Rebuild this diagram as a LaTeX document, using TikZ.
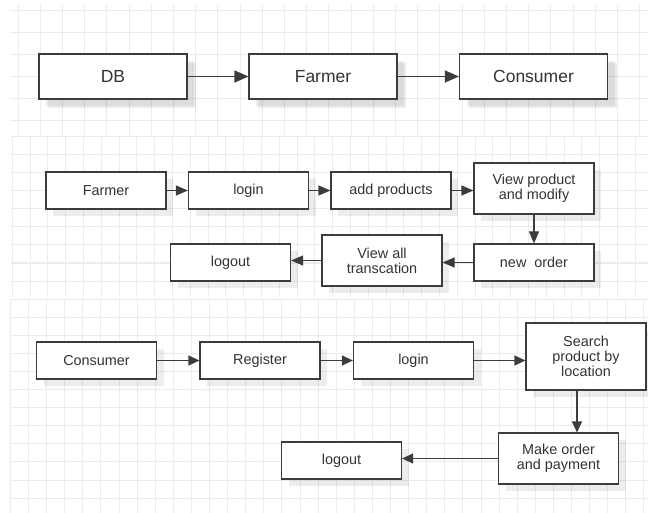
\documentclass[tikz,border=0pt]{standalone}
\usepackage{fontspec}
\setmainfont{Liberation Sans}
\usepackage{tikz}
\usetikzlibrary{arrows.meta}
\usetikzlibrary{shadows}
\tikzset{>={Triangle[width=10pt,length=12pt]}}
\definecolor{gridgray}{HTML}{EBEBEB}
\definecolor{inkgray}{HTML}{333333}
\definecolor{linegray}{HTML}{3C3C3C}
\tikzset{
  flowbox/.style={draw=linegray, line width=1.2pt, fill=white, inner sep=0pt,
    text=inkgray, align=center, minimum width=120pt, minimum height=37pt,
    font=\fontsize{14.4}{15}\selectfont,
    drop shadow={shadow xshift=7pt, shadow yshift=-7pt, fill=black, opacity=.07}},
  bigbox/.style={flowbox, minimum width=148pt, minimum height=45pt,
    font=\fontsize{17.5}{20}\selectfont,
    drop shadow={shadow xshift=9pt, shadow yshift=-9pt, fill=black, opacity=.07}},
  flowline/.style={->, line width=1.2pt, draw=linegray},
  gridline/.style={draw=gridgray, line width=1pt}
}

\begin{document}
\begin{tikzpicture}[x=1pt, y=-1pt]

  \useasboundingbox[fill=white] (0,0) rectangle (648,513);

  %% grid, top panel
  \foreach \gx in {0,...,28}
    \draw[gridline] ({18+22.2*\gx},5) -- ({18+22.2*\gx},135);
  \foreach \gy in {0,...,5}
    \draw[gridline] (10,{11+22*\gy}) -- (648,{11+22*\gy});

  %% grid, farmer panel
  \foreach \gx in {0,...,35}
    \draw[gridline] ({12.2+17.8*\gx},137) -- ({12.2+17.8*\gx},297);
  \foreach \gy in {0,...,8}
    \draw[gridline] (11,{137+18*\gy}) -- (648,{137+18*\gy});

  %% grid, consumer panel
  \foreach \gx in {0,...,35}
    \draw[gridline] ({10.4+18.1*\gx},299) -- ({10.4+18.1*\gx},513);
  \foreach \gy in {0,...,11}
    \draw[gridline] (11,{299+18.1*\gy}) -- (648,{299+18.1*\gy});

  %% top panel
  \node[bigbox] (db) at (113,76.5) {DB};
  \node[bigbox] (farmer) at (323,76.5) {Farmer};
  \node[bigbox] (consumer) at (533.5,76.5) {Consumer};

  \begin{scope}[>={Triangle[width=12pt,length=14pt]}]
    \draw[flowline] (db) -- (farmer);
    \draw[flowline] (farmer) -- (consumer);
  \end{scope}

  %% farmer panel
  \node[flowbox] (fFarmer) at (106,190.5) {Farmer};
  \node[flowbox] (fLogin) at (248.5,190.5) {login};
  \node[flowbox] (fAdd) at (391,190.5) {add products};
  \node[flowbox, minimum height=51pt] (fView) at (534,188.5)
    {View product\\and modify};
  \node[flowbox] (fOrder) at (534,262.5) {new\ \ order};
  \node[flowbox, minimum height=51pt] (fTrans) at (382,260.5)
    {View all\\transcation};
  \node[flowbox] (fLogout) at (230.5,262.5) {logout};

  \draw[flowline] (fFarmer) -- (fLogin);
  \draw[flowline] (fLogin) -- (fAdd);
  \draw[flowline] (fAdd.east) -- (fAdd.east -| fView.west); %% add -> view
  \draw[flowline] (fView) -- (fOrder);
  \draw[flowline] (fOrder.west) -- (fOrder.west -| fTrans.east);
  \draw[flowline] (fTrans.west) -- (fTrans.west -| fLogout.east);

  %% consumer panel
  \node[flowbox] (cConsumer) at (96.5,360.5) {Consumer};
  \node[flowbox] (cRegister) at (260,360.5) {Register};
  \node[flowbox] (cLogin) at (413.5,360.5) {login};
  \node[flowbox, minimum height=67pt] (cSearch) at (586,356.5)
    {Search\\product by\\location};
  \node[flowbox, minimum height=51pt] (cOrder) at (558.5,458.5)
    {Make order\\and payment};
  \node[flowbox] (cLogout) at (341.5,460.5) {logout};

  \begin{scope}[>={Triangle[width=10pt,length=11pt]}]
    \draw[flowline] (cConsumer) -- (cRegister);
    \draw[flowline] (cRegister) -- (cLogin);
    \draw[flowline] (cLogin.east) -- (cLogin.east -| cSearch.west); %% login -> search
    \draw[flowline] ([xshift=-9pt]cSearch.south)
      -- ([xshift=-9pt]cSearch.south |- cOrder.north);
    \draw[flowline] (cOrder.west) -- (cOrder.west -| cLogout.east);
  \end{scope}

\end{tikzpicture}
\end{document}
